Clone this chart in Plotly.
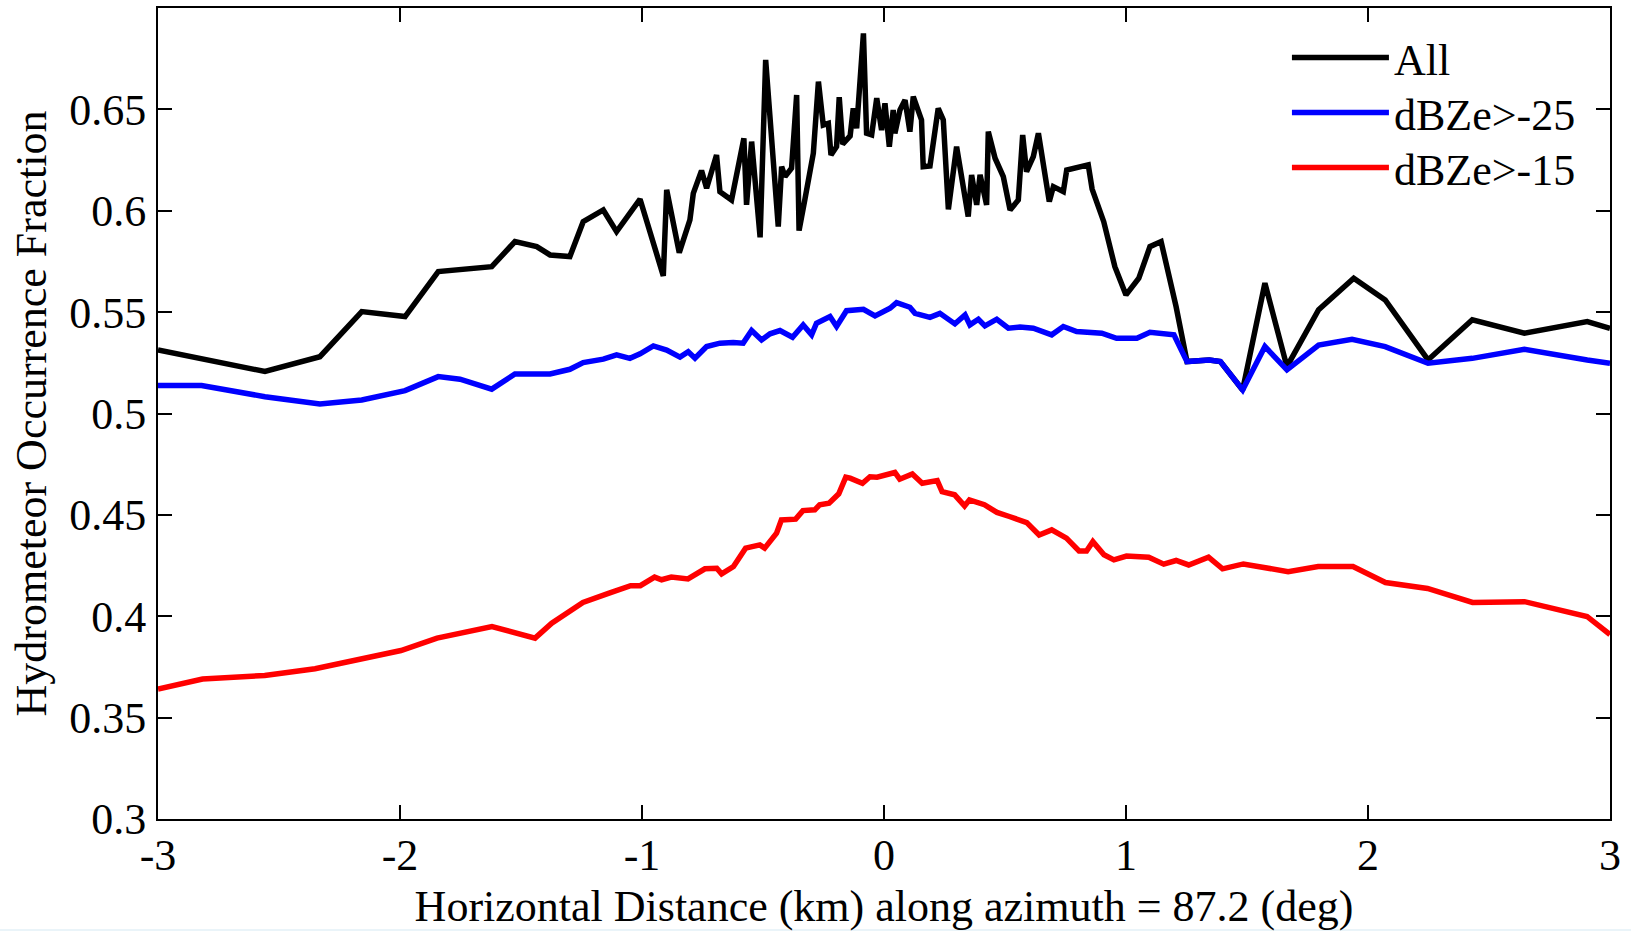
import plotly.graph_objects as go

# ---- data ----
x_all = [-3.0, -2.558, -2.331, -2.158, -1.979, -1.842, -1.621, -1.525, -1.435, -1.380,
         -1.298, -1.243, -1.160, -1.105, -1.008, -0.912, -0.898, -0.846, -0.802, -0.788,
         -0.754, -0.733, -0.692, -0.678, -0.630, -0.579, -0.568, -0.547, -0.512, -0.489,
         -0.437, -0.423, -0.409, -0.382, -0.361, -0.351, -0.326, -0.292, -0.271, -0.251,
         -0.230, -0.219, -0.196, -0.185, -0.171, -0.140, -0.127, -0.113, -0.085, -0.072,
         -0.051, -0.030, -0.010, 0.004, 0.022, 0.038, 0.045, 0.066, 0.087, 0.107,
         0.121, 0.155, 0.162, 0.190, 0.224, 0.245, 0.266, 0.300, 0.348, 0.362,
         0.383, 0.397, 0.424, 0.431, 0.459, 0.493, 0.521, 0.555, 0.573, 0.589,
         0.617, 0.638, 0.683, 0.700, 0.741, 0.755, 0.844, 0.860, 0.908, 0.954,
         1.000, 1.053, 1.099, 1.145, 1.207, 1.252, 1.344, 1.390, 1.482, 1.574,
         1.665, 1.796, 1.941, 2.071, 2.248, 2.431, 2.646, 2.906, 3.0]
y_all = [0.5314, 0.5207, 0.5280, 0.5503, 0.5478, 0.5700, 0.5724, 0.5848, 0.5823, 0.5782,
         0.5774, 0.5946, 0.6004, 0.5897, 0.6057, 0.5679, 0.6103, 0.5793, 0.5955, 0.6086,
         0.6198, 0.6111, 0.6275, 0.6094, 0.6053, 0.6357, 0.6029, 0.6341, 0.5869, 0.6744,
         0.5922, 0.6217, 0.6168, 0.6210, 0.6571, 0.5902, 0.6062, 0.6284, 0.6637, 0.6423,
         0.6431, 0.6275, 0.6316, 0.6560, 0.6329, 0.6369, 0.6505, 0.6407, 0.6875, 0.6382,
         0.6374, 0.6555, 0.6398, 0.6530, 0.6316, 0.6497, 0.6382, 0.6497, 0.6546, 0.6390,
         0.6563, 0.6448, 0.6217, 0.6221, 0.6505, 0.6448, 0.6007, 0.6316, 0.5971, 0.6177,
         0.6029, 0.6177, 0.6029, 0.6390, 0.6259, 0.6168, 0.6004, 0.6053, 0.6374, 0.6193,
         0.6267, 0.6382, 0.6045, 0.6119, 0.6094, 0.6201, 0.6226, 0.6107, 0.5946, 0.5724,
         0.5585, 0.5667, 0.5823, 0.5848, 0.5527, 0.5256, 0.5264, 0.5256, 0.5116, 0.5643,
         0.5231, 0.5512, 0.5667, 0.5560, 0.5264, 0.5462, 0.5396, 0.5453, 0.5420]

x_25 = [-3.0, -2.82, -2.558, -2.331, -2.158, -1.979, -1.842, -1.752, -1.621, -1.525,
        -1.38, -1.298, -1.243, -1.16, -1.105, -1.05, -1.008, -0.953, -0.898, -0.843,
        -0.809, -0.781, -0.733, -0.678, -0.623, -0.582, -0.547, -0.506, -0.471, -0.43,
        -0.378, -0.334, -0.299, -0.279, -0.223, -0.196, -0.155, -0.085, -0.037, 0.025,
        0.052, 0.107, 0.128, 0.19, 0.231, 0.293, 0.335, 0.355, 0.39, 0.417,
        0.466, 0.514, 0.562, 0.617, 0.693, 0.741, 0.796, 0.9, 0.961, 1.045,
        1.099, 1.198, 1.252, 1.344, 1.39, 1.482, 1.574, 1.665, 1.796, 1.934,
        2.071, 2.248, 2.431, 2.646, 2.906, 3.0]
y_25 = [0.5138, 0.5138, 0.5083, 0.5047, 0.5067, 0.5113, 0.5182, 0.5169, 0.5120, 0.5195,
        0.5195, 0.5218, 0.5251, 0.5268, 0.5289, 0.5272, 0.5294, 0.5333, 0.5313, 0.5278,
        0.5305, 0.5273, 0.5330, 0.5347, 0.5350, 0.5347, 0.5409, 0.5363, 0.5393, 0.5409,
        0.5376, 0.5437, 0.5388, 0.5445, 0.5478, 0.5429, 0.5507, 0.5514, 0.5481, 0.5519,
        0.5547, 0.5524, 0.5494, 0.5474, 0.5494, 0.5442, 0.5486, 0.5437, 0.5465, 0.5432,
        0.5465, 0.5421, 0.5426, 0.5421, 0.5388, 0.5429, 0.5404, 0.5396, 0.5371, 0.5371,
        0.5401, 0.5388, 0.5256, 0.5264, 0.5256, 0.5116, 0.5330, 0.5215, 0.5338, 0.5366,
        0.5330, 0.5248, 0.5272, 0.5317, 0.5264, 0.5248]

x_15 = [-3.0, -2.816, -2.559, -2.351, -1.996, -1.847, -1.62, -1.442, -1.373, -1.244,
        -1.136, -1.047, -1.007, -0.948, -0.919, -0.879, -0.81, -0.74, -0.691, -0.671,
        -0.622, -0.572, -0.513, -0.493, -0.444, -0.424, -0.365, -0.335, -0.286, -0.266,
        -0.227, -0.187, -0.158, -0.14, -0.089, -0.058, -0.029, 0.045, 0.065, 0.117,
        0.158, 0.22, 0.24, 0.292, 0.333, 0.353, 0.415, 0.467, 0.518, 0.59,
        0.641, 0.693, 0.754, 0.806, 0.837, 0.863, 0.909, 0.95, 1.002, 1.094,
        1.156, 1.207, 1.259, 1.341, 1.399, 1.485, 1.67, 1.794, 1.938, 2.072,
        2.246, 2.432, 2.647, 2.905, 3.0]
y_15 = [0.3641, 0.3690, 0.3708, 0.3741, 0.3831, 0.3892, 0.3949, 0.3892, 0.3966, 0.4068,
        0.4114, 0.4151, 0.4151, 0.4193, 0.4180, 0.4193, 0.4184, 0.4234, 0.4237, 0.4209,
        0.4245, 0.4336, 0.4352, 0.4336, 0.4410, 0.4475, 0.4479, 0.4521, 0.4525, 0.4550,
        0.4558, 0.4604, 0.4686, 0.4681, 0.4656, 0.4688, 0.4686, 0.4709, 0.4676, 0.4702,
        0.4656, 0.4669, 0.4615, 0.4599, 0.4544, 0.4574, 0.4550, 0.4512, 0.4492, 0.4462,
        0.4401, 0.4426, 0.4385, 0.4322, 0.4322, 0.4368, 0.4303, 0.4278, 0.4297, 0.4291,
        0.4257, 0.4275, 0.4253, 0.4291, 0.4234, 0.4258, 0.4220, 0.4245, 0.4245, 0.4166,
        0.4137, 0.4068, 0.4072, 0.3999, 0.3910]

series_names = ["All", "dBZe>-25", "dBZe>-15"]
series_colors = ["#000000", "#0000ff", "#ff0000"]

x_ticks = [-3, -2, -1, 0, 1, 2, 3]
x_tick_text = ["-3", "-2", "-1", "0", "1", "2", "3"]
y_ticks = [0.3, 0.35, 0.4, 0.45, 0.5, 0.55, 0.6, 0.65]
y_tick_text = ["0.3", "0.35", "0.4", "0.45", "0.5", "0.55", "0.6", "0.65"]

FONT = "Liberation Serif, Times New Roman, serif"

fig = go.Figure()
legend_ids = ["legend", "legend2", "legend3"]
for xs, ys, name, col, lg in zip([x_all, x_25, x_15], [y_all, y_25, y_15],
                                 series_names, series_colors, legend_ids):
    fig.add_trace(go.Scatter(x=xs, y=ys, mode="lines", name=name, legend=lg,
                             showlegend=True, line=dict(color=col, width=5.5)))

axis_common = dict(showline=True, linecolor="black", linewidth=2, mirror="allticks",
                   ticks="inside", ticklen=14, tickwidth=1.5, tickcolor="black",
                   showgrid=False, zeroline=False, automargin=False,
                   tickfont=dict(family=FONT, size=44, color="black"))

# legend rows (paper y of each row centre): plot area spans px 8..819
row_px = [58, 113, 168]
legend_common = dict(x=0.7775, xanchor="left", yanchor="middle", visible=True,
                     bgcolor="rgba(0,0,0,0)", borderwidth=0,
                     font=dict(family=FONT, size=44, color="black"), itemwidth=97)
legends = {}
for lg, py in zip(legend_ids, row_px):
    legends[lg] = dict(y=1 - (py - 8) / 811, **legend_common)

fig.update_layout(
    width=1631, height=931,
    showlegend=True,
    margin=dict(l=158, r=21, t=8, b=112, pad=0),
    paper_bgcolor="white", plot_bgcolor="white",
    font=dict(family=FONT, size=44, color="black"),
    xaxis=dict(range=[-3, 3], tickvals=x_ticks, ticktext=x_tick_text, ticklabelstandoff=-4,
               title=dict(text="Horizontal Distance (km) along azimuth = 87.2 (deg)",
                          font=dict(family=FONT, size=44), standoff=16),
               **axis_common),
    yaxis=dict(range=[0.3, 0.7], tickvals=y_ticks, ticktext=y_tick_text, ticklabelstandoff=1,
               title=dict(text="Hydrometeor Occurrence Fraction",
                          font=dict(family=FONT, size=44), standoff=9),
               **axis_common),
    shapes=[dict(type="rect", xref="paper", yref="paper", x0=-0.11, x1=1.02,
                 y0=-0.1381, y1=-0.1356, fillcolor="#eaf4f9", line=dict(width=0),
                 layer="below")],
    **legends,
)

fig.write_html("out.html")
